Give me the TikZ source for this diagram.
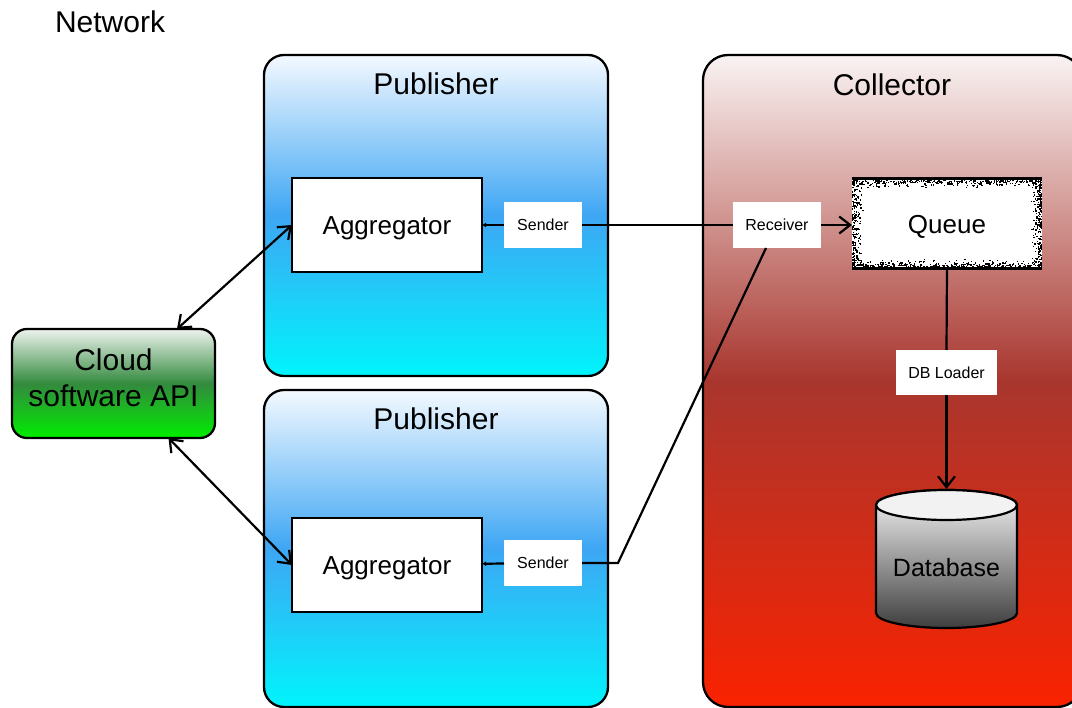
\documentclass[tikz,border=0pt]{standalone}
\usepackage{fontspec}
\setmainfont{Liberation Sans}
\usetikzlibrary{arrows.meta,calc}

\definecolor{pubtop}{HTML}{F4F9FF}
\definecolor{pubmid}{HTML}{3EA6F4}
\definecolor{pubbot}{HTML}{00F4FC}
\definecolor{coltop}{HTML}{F9F3F3}
\definecolor{colmid}{HTML}{A8362E}
\definecolor{colbot}{HTML}{FA2200}
\definecolor{cloudtop}{HTML}{EEF3EE}
\definecolor{cloudmid}{HTML}{338A3E}
\definecolor{cloudbot}{HTML}{00EE00}
\definecolor{dbtopc}{HTML}{F6F6F6}
\definecolor{dbbotc}{HTML}{3E3E3E}
\definecolor{dbcap}{HTML}{F2F2F2}

\begin{document}
\begin{tikzpicture}[x=1pt,y=-1pt,
  every node/.style={inner sep=0pt, outer sep=0pt},
  bigtitle/.style={font=\fontsize{30}{36}\selectfont, anchor=base},
  group/.style={draw=black, line width=2.3pt},
  pubbox/.style={group, rounded corners=20pt, minimum width=344pt,
    top color=pubtop, bottom color=pubbot, middle color=pubmid},
  aggbox/.style={draw=black, line width=2.6pt, fill=white,
    minimum width=190pt, minimum height=94pt,
    font=\fontsize{26}{31}\selectfont, text height=18.7pt, text depth=0pt},
  lbl/.style={fill=white, minimum height=46pt,
    font=\fontsize{16}{19}\selectfont, text height=11.5pt, text depth=0pt},
  conn/.style={draw=black, line width=2.2pt},
  openarrow/.style={-{Straight Barb[length=11pt,width=17pt]}},
  dblarrow/.style={{Straight Barb[length=11pt,width=17pt]}-{Straight Barb[length=11pt,width=17pt]}},
  smalltip/.style={-{Latex[length=4pt,width=5pt]}},
  speck/.style={fill=black}
]
\useasboundingbox (0,0) rectangle (1072,708);
\clip (0,0) rectangle (1072,708);

% network label
\node[font=\fontsize{30}{36}\selectfont, anchor=base west] (net) at (55,33) {Network};

% publisher groups
\node[pubbox, minimum height=321pt] (pub1) at (436,215.5) {};
\node[bigtitle] (pub1t) at (436,95) {Publisher};
\node[pubbox, minimum height=317pt] (pub2) at (436,548.5) {};
\node[bigtitle] (pub2t) at (436,430) {Publisher};

% collector group
\node[group, rounded corners=25pt, minimum width=379pt, minimum height=652pt,
  top color=coltop, bottom color=colbot, middle color=colmid] (coll) at (892.5,381) {};
\node[bigtitle] (collt) at (892,96) {Collector};

% cloud API
\node[group, rounded corners=15pt, minimum width=203pt, minimum height=109pt,
  top color=cloudtop, bottom color=cloudbot, middle color=cloudmid] (cloud) at (113.5,383.5) {};
\node[bigtitle] (cloudl1) at (113.5,371) {Cloud};
\node[bigtitle] (cloudl2) at (113.5,407) {software API};

% aggregators and senders
\node[aggbox] (agg1) at (387,225) {Aggregator};
\node[aggbox] (agg2) at (387,565) {Aggregator};
\node[lbl, minimum width=78pt] (snd1) at (543,225) {Sender};
\node[lbl, minimum width=78pt] (snd2) at (543,563) {Sender};

% receiver, queue, loader
\node[lbl, minimum width=88pt] (rcv) at (777,225) {Receiver};
\node[fill=white, minimum width=190pt, minimum height=90pt,
  font=\fontsize{26}{31}\selectfont, text height=18.7pt, text depth=0pt] (queue) at (947,224) {Queue};
\draw[line width=3pt] (queue.north west) -- (queue.north east);
\draw[line width=3pt] (queue.south west) -- (queue.south east);
\pgfmathsetseed{7}
\foreach \i in {1,...,320}{
  \pgfmathsetmacro\px{852+189*rnd}
  \pgfmathsetmacro\py{180+8*rnd*rnd}
  \fill[speck] (\px,\py) rectangle ++(1.3,1.3);
}
\foreach \i in {1,...,320}{
  \pgfmathsetmacro\px{852+189*rnd}
  \pgfmathsetmacro\py{266.7-8*rnd*rnd}
  \fill[speck] (\px,\py) rectangle ++(1.3,1.3);
}
\foreach \i in {1,...,220}{
  \pgfmathsetmacro\px{852+12*rnd*rnd}
  \pgfmathsetmacro\py{179+89*rnd}
  \fill[speck] (\px,\py) rectangle ++(1.3,1.3);
}
\foreach \i in {1,...,220}{
  \pgfmathsetmacro\px{1040.7-12*rnd*rnd}
  \pgfmathsetmacro\py{179+89*rnd}
  \fill[speck] (\px,\py) rectangle ++(1.3,1.3);
}
\node[lbl, minimum width=101pt, minimum height=45pt] (dbl) at (946.5,372.5) {DB Loader};

% database cylinder
\shade[top color=dbtopc, bottom color=dbbotc, draw=black, line width=2.2pt]
  (876,505) -- (876,613)
  arc[start angle=180, end angle=360, x radius=70.5pt, y radius=15pt]
  -- (1017,505)
  arc[start angle=0, end angle=180, x radius=70.5pt, y radius=15pt] -- cycle;
\fill[dbcap] (946.5,505) ellipse [x radius=70.5pt, y radius=15pt];
\draw[line width=2.2pt] (876,505)
  arc[start angle=180, end angle=360, x radius=70.5pt, y radius=15pt];
\draw[line width=2.2pt] (876,505)
  arc[start angle=180, end angle=0, x radius=70.5pt, y radius=15pt];
\node[font=\fontsize{25}{30}\selectfont, anchor=base] (db) at (946.5,577) {Database};
\coordinate (dbtop) at (946.5,489);
\coordinate (bend) at (618,563);

% connectors
\draw[conn, dblarrow] ([xshift=63.5pt]cloud.north) -- (agg1.west);
\draw[conn, dblarrow] ([xshift=55pt]cloud.south) -- (agg2.west);
\draw[conn, smalltip] (snd1) -- (agg1);
\draw[conn, smalltip] (snd2) -- (agg2);
\draw[conn] (snd1) -- (rcv);
\draw[conn, openarrow] (rcv.east) -- (rcv.east -| queue.west);
\draw[conn] (snd2) -- (bend) -- ([xshift=-11pt]rcv.south);
\draw[conn] (queue.south) -- (dbl.north);
\draw[conn, openarrow] (dbl) -- (dbtop);
\end{tikzpicture}
\end{document}
